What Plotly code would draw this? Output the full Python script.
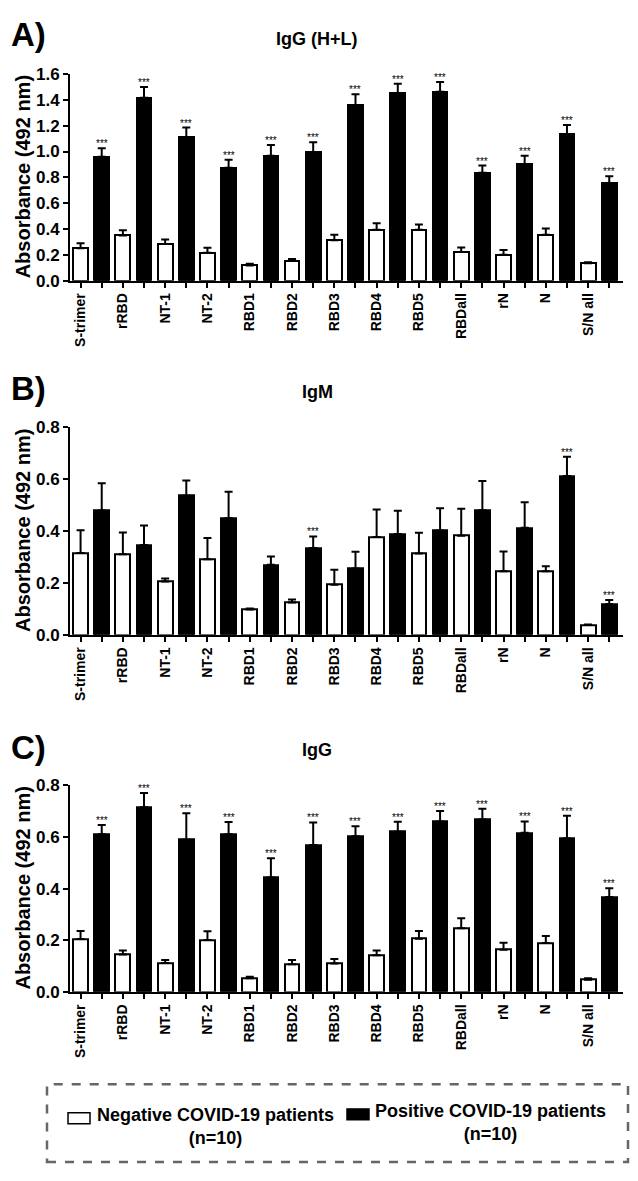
import plotly.graph_objects as go

ANTIGENS = ["S-trimer", "rRBD", "NT-1", "NT-2", "RBD1", "RBD2", "RBD3",
            "RBD4", "RBD5", "RBDall", "rN", "N", "S/N all"]

# A) IgG (H+L) - means and SEM
IGG_HL_NEG = [0.25, 0.35, 0.284, 0.216, 0.117, 0.152, 0.312, 0.394, 0.394, 0.221, 0.20, 0.356, 0.135]
IGG_HL_NEG_SEM = [0.04, 0.04, 0.034, 0.038, 0.013, 0.016, 0.044, 0.05, 0.04, 0.036, 0.038, 0.048, 0.007]
IGG_HL_POS = [0.96, 1.417, 1.112, 0.874, 0.968, 0.993, 1.361, 1.450, 1.463, 0.836, 0.901, 1.133, 0.754]
IGG_HL_POS_SEM = [0.066, 0.083, 0.074, 0.063, 0.082, 0.079, 0.082, 0.074, 0.076, 0.055, 0.067, 0.073, 0.054]
IGG_HL_SIG = [True] * 13

# B) IgM
IGM_NEG = [0.315, 0.31, 0.205, 0.291, 0.097, 0.124, 0.193, 0.377, 0.313, 0.382, 0.245, 0.245, 0.038]
IGM_NEG_SEM = [0.088, 0.084, 0.012, 0.082, 0.004, 0.012, 0.058, 0.106, 0.08, 0.104, 0.076, 0.019, 0.002]
IGM_POS = [0.479, 0.346, 0.536, 0.449, 0.270, 0.334, 0.255, 0.388, 0.402, 0.480, 0.412, 0.612, 0.119]
IGM_POS_SEM = [0.105, 0.075, 0.059, 0.102, 0.032, 0.045, 0.065, 0.09, 0.086, 0.113, 0.099, 0.074, 0.015]
IGM_SIG = [False, False, False, False, False, True, False, False, False, False, False, True, True]

# C) IgG
IGG_NEG = [0.205, 0.145, 0.112, 0.201, 0.053, 0.107, 0.110, 0.142, 0.206, 0.246, 0.163, 0.189, 0.047]
IGG_NEG_SEM = [0.031, 0.015, 0.011, 0.034, 0.005, 0.016, 0.017, 0.018, 0.03, 0.039, 0.027, 0.027, 0.006]
IGG_POS = [0.61, 0.715, 0.589, 0.61, 0.443, 0.569, 0.603, 0.620, 0.660, 0.667, 0.616, 0.594, 0.367]
IGG_POS_SEM = [0.036, 0.055, 0.103, 0.048, 0.074, 0.087, 0.038, 0.039, 0.04, 0.042, 0.044, 0.088, 0.034]
IGG_SIG = [True] * 13

Y_TICKS_A = [0.0, 0.2, 0.4, 0.6, 0.8, 1.0, 1.2, 1.4, 1.6]
Y_TICKS_BC = [0.0, 0.2, 0.4, 0.6, 0.8]

FONT = "Liberation Sans, Arial, sans-serif"
# the page body keeps its default 8px margin, so the figure is drawn 16px smaller
PAGE_W, PAGE_H, PAD = 638, 1181, 8
W, H = PAGE_W - 2 * PAD, PAGE_H - 2 * PAD


def px(x):
    return (x - PAD) / W


def py(y):
    return 1 - (y - PAD) / H


PANELS = [
    dict(letter="A)", title="IgG (H+L)", neg=IGG_HL_NEG, neg_sem=IGG_HL_NEG_SEM,
         pos=IGG_HL_POS, pos_sem=IGG_HL_POS_SEM, sig=IGG_HL_SIG, yticks=Y_TICKS_A,
         top=66, bottom=276, letter_y=26, title_y=30),
    dict(letter="B)", title="IgM", neg=IGM_NEG, neg_sem=IGM_NEG_SEM,
         pos=IGM_POS, pos_sem=IGM_POS_SEM, sig=IGM_SIG, yticks=Y_TICKS_BC,
         top=425, bottom=636, letter_y=386, title_y=389),
    dict(letter="C)", title="IgG", neg=IGG_NEG, neg_sem=IGG_NEG_SEM,
         pos=IGG_POS, pos_sem=IGG_POS_SEM, sig=IGG_SIG, yticks=Y_TICKS_BC,
         top=789, bottom=999, letter_y=751, title_y=753),
]

x_neg = [2 * i for i in range(len(ANTIGENS))]
x_pos = [2 * i + 1 for i in range(len(ANTIGENS))]
tickvals = sorted(x_neg + x_pos)
ticktext = [ANTIGENS[v // 2] if v % 2 == 0 else "" for v in tickvals]

fig = go.Figure()
annotations = []
layout = {}

for k, p in enumerate(PANELS):
    sfx = "" if k == 0 else str(k + 1)
    xa, ya = "x" + sfx, "y" + sfx
    for xs, ys, sem, fill in [(x_neg, p["neg"], p["neg_sem"], "white"),
                              (x_pos, p["pos"], p["pos_sem"], "black")]:
        fig.add_trace(go.Bar(
            x=xs, y=ys, width=0.7, xaxis=xa, yaxis=ya, showlegend=False,
            marker=dict(color=fill, line=dict(color="black", width=2)),
            error_y=dict(type="data", symmetric=False, array=sem,
                         arrayminus=[0] * len(sem), color="black", thickness=2, width=4),
        ))
    for i, s in enumerate(p["sig"]):
        if s:
            annotations.append(dict(
                x=x_pos[i], y=p["pos"][i] + p["pos_sem"][i], xref=xa, yref=ya,
                text="***", showarrow=False, yanchor="bottom", yshift=-3,
                font=dict(family=FONT, size=10, color="black"),
            ))
    ymax = p["yticks"][-1]
    layout["xaxis" + sfx] = dict(
        domain=[px(70), px(623)], range=[-0.5, 25.65], anchor=ya,
        tickmode="array", tickvals=tickvals, ticktext=ticktext, tickangle=-90,
        ticks="outside", ticklen=5, tickwidth=2, tickcolor="black",
        showline=True, linecolor="black", linewidth=2, showgrid=False, zeroline=False,
        tickfont=dict(family=FONT, size=14, color="black", weight="bold"),
    )
    layout["yaxis" + sfx] = dict(
        domain=[py(p["bottom"]), py(p["top"])], range=[0, ymax], anchor=xa,
        tickmode="array", tickvals=p["yticks"], tickformat=".1f",
        ticks="outside", ticklen=5, tickwidth=2, tickcolor="black",
        showline=True, linecolor="black", linewidth=2, showgrid=False, zeroline=False,
        tickfont=dict(family=FONT, size=17, color="black", weight="bold"),
    )
    annotations.append(dict(
        x=px(9), y=py(p["letter_y"]), xref="paper", yref="paper",
        text=p["letter"], showarrow=False, xanchor="left", yanchor="middle",
        font=dict(family=FONT, size=33, color="black", weight="bold"),
    ))
    annotations.append(dict(
        x=px(317), y=py(p["title_y"]), xref="paper", yref="paper",
        text=p["title"], showarrow=False, xanchor="center", yanchor="middle",
        font=dict(family=FONT, size=18, color="black", weight="bold"),
    ))
    annotations.append(dict(
        x=px(23), y=py((p["top"] + p["bottom"]) / 2), xref="paper", yref="paper",
        text="Absorbance (492 nm)", textangle=-90, showarrow=False,
        xanchor="center", yanchor="middle",
        font=dict(family=FONT, size=20, color="black", weight="bold"),
    ))

# legend box
shapes = [
    dict(type="rect", xref="paper", yref="paper", x0=px(47), x1=px(628),
         y0=py(1172), y1=py(1093), line=dict(color="#666666", width=2.5, dash="dash")),
    dict(type="rect", xref="paper", yref="paper", x0=px(68), x1=px(90),
         y0=py(1133), y1=py(1122), fillcolor="white", line=dict(color="black", width=1.5)),
    dict(type="rect", xref="paper", yref="paper", x0=px(347), x1=px(369),
         y0=py(1129), y1=py(1118), fillcolor="black", line=dict(color="black", width=1.5)),
]
legend_font = dict(family=FONT, size=18, color="black", weight="bold")
annotations += [
    dict(x=px(215), y=py(1136), xref="paper", yref="paper", showarrow=False,
         text="Negative COVID-19 patients<br>(n=10)", align="center",
         xanchor="center", yanchor="middle", font=legend_font),
    dict(x=px(490), y=py(1132), xref="paper", yref="paper", showarrow=False,
         text="Positive COVID-19 patients<br>(n=10)", align="center",
         xanchor="center", yanchor="middle", font=legend_font),
]

fig.update_layout(
    width=W, height=H, margin=dict(l=0, r=0, t=0, b=0),
    paper_bgcolor="white", plot_bgcolor="white",
    bargap=0, annotations=annotations, shapes=shapes, **layout,
)

fig.write_html("out.html")
